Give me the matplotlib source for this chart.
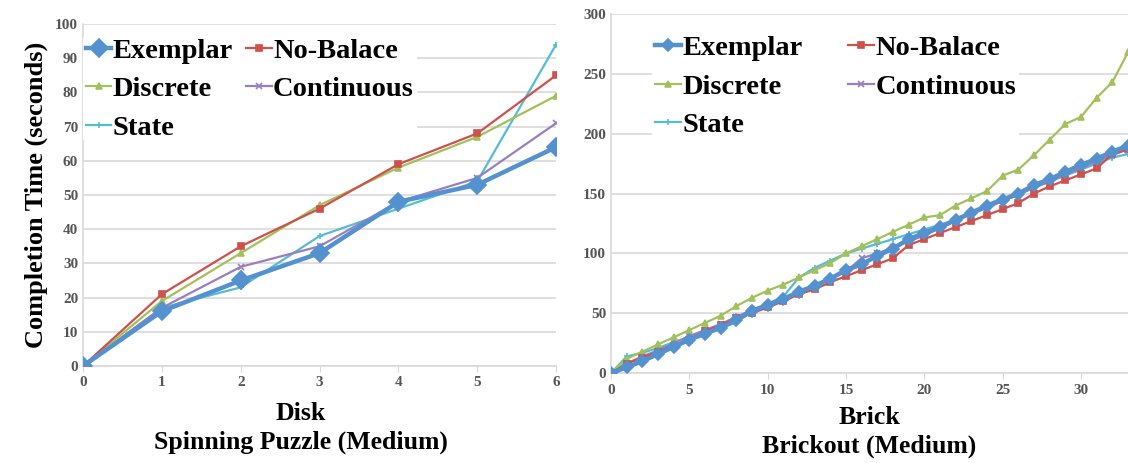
import matplotlib.pyplot as plt
import numpy as np

# Spinning Puzzle (Medium) - per disk
disk = [0, 1, 2, 3, 4, 5, 6]
sp_exemplar = [0, 16, 25, 33, 48, 53, 64]
sp_nobalance = [0, 21, 35, 46, 59, 68, 85]
sp_discrete = [0, 19, 33, 47, 58, 67, 79]
sp_continuous = [0, 17, 29, 35, 48, 55, 71]
sp_state = [0, 17, 23, 38, 46, 54, 94]

# Brickout (Medium) - per brick
brick = list(range(34))
bo_exemplar = [0, 5, 10, 16, 22, 28, 33, 38, 44, 52, 57, 62, 68, 73, 79, 86,
               91, 98, 104, 112, 117, 122, 128, 134, 140, 145, 150, 157, 162,
               168, 174, 179, 185, 190]
bo_nobalance = [0, 8, 13, 18, 23, 28, 35, 40, 46, 50, 55, 60, 66, 70, 76, 81,
                86, 91, 96, 107, 112, 117, 122, 127, 132, 137, 142, 150, 156,
                161, 166, 171, 183, 187]
bo_discrete = [0, 12, 18, 24, 30, 36, 42, 48, 56, 63, 69, 74, 80, 86, 92, 100,
               106, 112, 118, 124, 130, 132, 140, 146, 152, 165, 170, 182,
               195, 208, 214, 230, 243, 268]
bo_continuous = [0, 8, 14, 19, 25, 31, 36, 41, 47, 53, 57, 62, 68, 73, 79, 85,
                 96, 100, 105, 110, 115, 121, 127, 133, 138, 144, 149, 155,
                 160, 166, 171, 177, 182, 187]
bo_state = [0, 14, 17, 21, 26, 30, 34, 38, 43, 52, 58, 64, 80, 88, 94, 100,
            104, 108, 112, 116, 120, 124, 128, 133, 138, 144, 149, 155, 160,
            165, 170, 175, 180, 183]

names = ['Exemplar', 'No-Balace', 'Discrete', 'Continuous', 'State']
colors = ['#5391cf', '#d0504c', '#a2c15c', '#9a7fbf', '#56bcd3']
markers = ['D', 's', '^', 'x', '+']
grid_c = '#d9d9d9'

plt.rcParams['font.family'] = 'Liberation Serif'
plt.rcParams['font.weight'] = 'bold'
plt.rcParams['axes.labelweight'] = 'bold'

fig = plt.figure(figsize=(11.28, 4.63), dpi=100)
ax1 = fig.add_axes([0.0736, 0.2095, 0.4194, 0.7387])
ax2 = fig.add_axes([0.5417, 0.194, 0.4583, 0.776])


def draw(ax, x, series, big, small, anchor, colsp):
    lines = []
    for i, (y, name) in enumerate(zip(series, names)):
        lw = 3.2 if i == 0 else 1.6
        ms = big if i == 0 else small
        ln, = ax.plot(x, y, color=colors[i], lw=lw, marker=markers[i], ms=ms,
                      mew=1.2, label=name, zorder=5 - i if i else 6)
        lines.append(ln)
    for s in ['top', 'right']:
        ax.spines[s].set_visible(False)
    for s in ['left', 'bottom']:
        ax.spines[s].set_color(grid_c)
        ax.spines[s].set_linewidth(1.2)
    ax.yaxis.grid(True, color=grid_c, lw=1.2)
    ax.set_axisbelow(True)
    ax.tick_params(axis='both', colors=grid_c, labelcolor='#555555',
                   labelsize=11, length=4)
    ax.tick_params(axis='y', length=0)
    # row-wise legend order for a 2-column legend
    order = [0, 2, 4, 1, 3]
    leg = ax.legend([lines[k] for k in order], [names[k] for k in order],
                    loc='upper left', ncol=2,
                    prop={'size': 20.5, 'weight': 'bold'}, frameon=True,
                    handlelength=0.9, handletextpad=0.05,
                    columnspacing=colsp, labelspacing=0.44, borderpad=0.1,
                    borderaxespad=0, bbox_to_anchor=anchor)
    leg.get_frame().set_facecolor('white')
    leg.get_frame().set_edgecolor('none')
    leg.get_frame().set_alpha(1)


draw(ax1, disk, [sp_exemplar, sp_nobalance, sp_discrete, sp_continuous,
                 sp_state], 9, 5, (0.0, 0.968), 0.45)
ax1.set_xlim(0, 6)
ax1.set_ylim(0, 100)
ax1.set_xticks(disk)
ax1.set_yticks(np.arange(0, 101, 10))
ax1.set_ylabel('Completion Time (seconds)', fontsize=19, labelpad=5)
ax1.set_xlabel('Disk\nSpinning Puzzle (Medium)', fontsize=18.5,
               linespacing=1.3)
ax1.xaxis.set_label_coords(0.46, -0.105, transform=ax1.transAxes)

draw(ax2, brick, [bo_exemplar, bo_nobalance, bo_discrete, bo_continuous,
                  bo_state], 6, 5, (0.08, 0.948), 1.6)
ax2.set_xlim(0, 33)
ax2.set_ylim(0, 300)
ax2.set_xticks(range(0, 31, 5))
ax2.set_yticks(range(0, 301, 50))
ax2.set_xlabel('Brick\nBrickout (Medium)', fontsize=18.5, labelpad=7,
               linespacing=1.3)

fig.savefig('out.png', dpi=100)
